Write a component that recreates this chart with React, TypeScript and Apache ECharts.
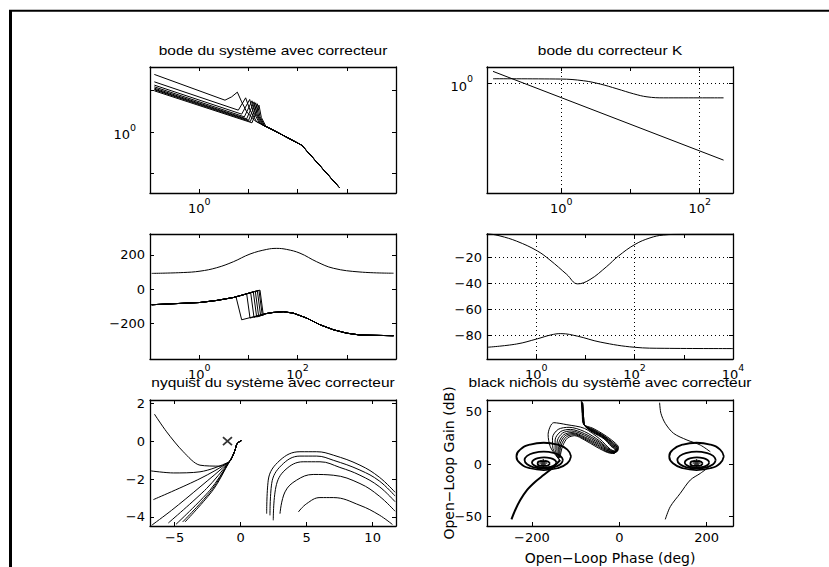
import React, { useEffect, useRef } from "react";
import * as echarts from "echarts";

const TITLE_FONT = "'Liberation Sans', Arial, Helvetica, sans-serif";
const FONT = "'DejaVu Sans', 'Liberation Sans', sans-serif";
const FS = 13;
const FT = 12.8;
const TITLE_STRETCH = 1.21;
const FRAME_W = 1.3;

// ---------- Subplot 1: bode du système avec correcteur (log10 w, log10 |G|) ----------
const bodeSysHeads: number[][][] = [
  [[-0.912, 1.39], [0.524, 0.767], [0.66, 0.848], [0.775, 0.961], [0.863, 0.726], [0.965, 0.485], [1.134, 0.267]],
  [[-0.912, 1.211], [0.795, 0.525], [0.944, 0.824], [1.033, 0.525], [1.168, 0.243]],
  [[-0.912, 1.131], [0.863, 0.429], [1.026, 0.784], [1.1, 0.485], [1.222, 0.219]],
  [[-0.912, 1.09], [0.917, 0.363], [1.073, 0.751], [1.148, 0.445], [1.256, 0.186]],
  [[-0.912, 1.058], [0.965, 0.316], [1.114, 0.726], [1.182, 0.404], [1.29, 0.162]],
  [[-0.912, 1.034], [1.005, 0.283], [1.148, 0.703], [1.209, 0.38], [1.317, 0.146]],
  [[-0.912, 1.018], [1.039, 0.251], [1.182, 0.679], [1.236, 0.363], [1.337, 0.138]],
  [[-0.912, 0.993], [1.073, 0.219], [1.215, 0.646], [1.263, 0.348], [1.358, 0.13]],
];
const bodeSysTail: number[][] = [[1.371, 0.122], [1.507, 0.041], [2.083, -0.322], [2.848, -1.346]];

// ---------- Subplot 2: bode du correcteur K ----------
const bodeKUpper: number[][] = [
  [-0.987, 0.163], [-0.014, 0.152], [0.323, 0.087], [0.564, -0.038], [0.804, -0.216],
  [1.045, -0.405], [1.238, -0.519], [1.479, -0.557], [2.345, -0.557],
];
const bodeKLower: number[][] = [[-0.987, 0.441], [2.345, -2.905]];

// ---------- Subplot 3: phase du système (deg) ----------
const phaseSysUpper: number[][] = [
  [-0.966, 92], [-0.323, 97], [0.016, 105], [0.355, 125], [0.694, 160], [1.033, 205], [1.372, 232],
  [1.575, 238], [1.778, 232], [2.049, 210], [2.388, 160], [2.726, 122], [3.268, 100], [3.95, 93],
];
const phaseSysBase: number[][] = [
  [-0.966, -91], [0.016, -78], [0.355, -66], [0.694, -49], [0.897, -33], [1.1, -16], [1.236, -6],
];
// [x top, phase top, x bottom, phase bottom]
const phaseSysDrops: number[][] = [
  [0.748, -45, 0.863, -179], [0.965, -27, 1.033, -169], [1.046, -20, 1.114, -165], [1.1, -16, 1.168, -163],
  [1.141, -13, 1.209, -160], [1.182, -10, 1.249, -156], [1.215, -7, 1.283, -154], [1.243, -6, 1.303, -152],
];
const phaseSysPost: number[][] = [
  [1.337, -144], [1.507, -136], [1.71, -132], [1.913, -140], [2.184, -169], [2.455, -208],
  [2.726, -237], [2.997, -257], [3.268, -268], [3.95, -272],
];

// ---------- Subplot 4: phase du correcteur ----------
const phaseKUpper: number[][] = [
  [-1.0, -1.5], [-0.736, -3.5], [-0.397, -7.5], [0.023, -15], [0.28, -22], [0.62, -33], [0.843, -40.3],
  [1.093, -37], [1.433, -27], [1.669, -19], [2.008, -10], [2.313, -5], [2.584, -2.8], [2.99, -2.2], [4, -2.1],
];
const phaseKLower: number[][] = [
  [-1, -89], [-0.4, -86.5], [0.023, -82.5], [0.3, -79.5], [0.5, -78.5], [0.843, -80.5], [1.3, -85],
  [2.0, -89], [2.6, -89.8], [4, -90],
];

// ---------- Subplot 5: nyquist ----------
const nyqHead: number[][] = [[0.05, 0.02], [-0.26, -0.12], [-0.43, -0.48], [-0.61, -0.79], [-0.86, -1.09]];
const nyqFan: number[][][] = [
  [[-1.57, -1.32], [-3.08, -1.27], [-4.35, -0.56], [-5.61, 0.49], [-6.54, 1.43]],
  [[-3.08, -1.62], [-5.1, -1.68], [-6.82, -1.57]],
  [[-3.08, -1.98], [-6.62, -3.09]],
  [[-3.08, -2.42], [-5.23, -3.65], [-6.74, -4.44]],
  [[-2.58, -2.5], [-5.48, -4.32]],
  [[-2.33, -2.59], [-4.9, -4.39]],
  [[-2.2, -2.59], [-4.4, -4.27]],
  [[-2.07, -2.56], [-4.22, -4.27]],
];
const nyqArcs: number[][][] = [
  [[1.97, -3.83], [2.09, -2.06], [2.98, -1.01], [4.49, -0.56], [5.76, -0.56], [7.02, -0.74], [9.04, -1.27], [10.5, -1.9], [11.7, -2.7]],
  [[2.22, -3.92], [2.35, -2.24], [3.1, -1.27], [4.49, -0.79], [5.76, -0.79], [7.02, -1.01], [9.04, -1.53], [10.5, -2.1], [11.7, -2.9]],
  [[2.47, -4.18], [2.67, -2.42], [3.36, -1.53], [4.74, -1.09], [6.01, -1.09], [7.52, -1.39], [9.04, -1.8], [10.5, -2.4], [11.7, -3.2]],
  [[2.98, -3.83], [3.36, -2.68], [4.24, -2.06], [5.5, -1.76], [7.02, -1.8], [9.04, -2.24], [10.5, -2.9], [11.7, -3.7]],
  [[4.37, -3.74], [5.0, -3.3], [6.01, -2.98], [7.02, -2.98], [9.04, -3.39], [10.5, -3.9], [11.5, -4.4]],
];
const nyqCritical: number[][] = [[-1, 0]];

// ---------- Subplot 6: black nichols (phase deg, gain dB) ----------
const nichFamily: number[][][] = [
  [[-87, 60], [-85, 48], [-82, 38], [-60, 34], [-35, 28], [-12, 21], [-2, 16], [-5, 12], [-20, 14], [-45, 24], [-80, 34], [-120, 37.5], [-150, 39.4], [-163, 28], [-158, 16.5], [-145, 8], [-137, 4]],
  [[-86, 60], [-84, 47], [-81, 37.5], [-60, 33], [-35, 27], [-13, 20], [-3, 15.5], [-6, 11.8], [-21, 13.5], [-45, 22], [-80, 31], [-115, 35], [-140, 33], [-153, 25], [-152, 15], [-142, 7], [-137, 4]],
  [[-85, 59], [-83, 47], [-80, 37], [-60, 32.5], [-35, 26.5], [-14, 19.5], [-4, 15], [-7, 11.5], [-22, 13], [-46, 21], [-80, 29], [-112, 33], [-134, 31], [-147, 23], [-147, 14], [-140, 6.5], [-137, 4]],
  [[-85, 59], [-83, 46], [-80, 37], [-60, 32], [-35, 26], [-15, 19], [-5, 14.6], [-8, 11.2], [-23, 12.6], [-47, 20], [-80, 27.5], [-110, 31.5], [-130, 29.5], [-142, 22], [-143, 13], [-139, 6]],
  [[-84, 58], [-82, 46], [-79, 36.5], [-60, 31.5], [-35, 25.5], [-16, 18.5], [-6, 14.2], [-9, 11], [-24, 12.2], [-48, 19], [-80, 26], [-108, 30], [-127, 28], [-138, 21], [-140, 12], [-138, 6]],
  [[-84, 58], [-82, 46], [-79, 36.5], [-60, 31], [-35, 25], [-17, 18], [-7, 13.8], [-10, 10.7], [-25, 11.8], [-49, 18], [-80, 25], [-106, 29], [-124, 27], [-135, 20], [-138, 11.5], [-137, 6]],
  [[-84, 58], [-82, 46], [-79, 36.5], [-60, 30.5], [-35, 24.5], [-18, 17.5], [-8, 13.4], [-11, 10.4], [-26, 11.4], [-50, 17], [-80, 24], [-104, 28], [-121, 26], [-132, 19], [-136, 11], [-136, 6]],
  [[-84, 58], [-82, 46], [-79, 36.5], [-60, 30], [-35, 24], [-19, 17], [-9, 13], [-12, 10], [-27, 11], [-51, 16], [-80, 23], [-102, 27], [-118, 25], [-129, 18], [-134, 10.5], [-135, 6]],
];
const nichLowLeft: number[][] = [
  [-247, -52.7], [-238.3, -43.8], [-226.8, -34.3], [-211.5, -24.8], [-192.4, -16.8], [-173.4, -10.5], [-154.2, -4.1], [-135.2, 3.8],
];
const nichLowRight: number[][] = [[105.4, -52.7], [116.8, -40.6], [139.7, -27.9], [162.7, -15.2], [185.6, -8.9], [205, -3]];
const nichHighRight: number[][] = [[92.4, 58.4], [95.4, 48.3], [105.4, 38.7], [124.5, 29.2], [155, 22.9], [185.6, 18.1], [208.5, 11.7]];
const nichRingsLeft: number[][][] = [
  [[-110.5, 7.3], [-118.9, 13.8], [-141.8, 18.6], [-173, 20.3], [-204.3, 18.6], [-227.1, 13.8], [-235.5, 7.3], [-227.1, 0.8], [-204.3, -4], [-173, -5.7], [-141.8, -4], [-118.9, 0.8], [-110.5, 7.3]],
  [[-129, 3.8], [-134.9, 7.8], [-151, 10.7], [-173, 11.8], [-195, 10.7], [-211.1, 7.8], [-217, 3.8], [-211.1, -0.2], [-195, -3.1], [-173, -4.2], [-151, -3.1], [-134.9, -0.2], [-129, 3.8]],
  [[-144, 1.5], [-147.8, 3.9], [-158, 5.7], [-172, 6.3], [-186, 5.7], [-196.2, 3.9], [-200, 1.5], [-196.2, -0.9], [-186, -2.7], [-172, -3.3], [-158, -2.7], [-147.8, -0.9], [-144, 1.5]],
  [[-159, 0.5], [-166, 2.75], [-180, 2.75], [-187, 0.5], [-180, -1.75], [-166, -1.75], [-159, 0.5]],
];
const nichRingsRight: number[][][] = [
  [[239.5, 7.3], [231.1, 13.8], [208.3, 18.6], [177, 20.3], [145.8, 18.6], [122.9, 13.8], [114.5, 7.3], [122.9, 0.8], [145.8, -4], [177, -5.7], [208.3, -4], [231.1, 0.8], [239.5, 7.3]],
  [[221, 3.8], [215.1, 7.8], [199, 10.7], [177, 11.8], [155, 10.7], [138.9, 7.8], [133, 3.8], [138.9, -0.2], [155, -3.1], [177, -4.2], [199, -3.1], [215.1, -0.2], [221, 3.8]],
  [[206, 1.5], [202.2, 3.9], [192, 5.7], [178, 6.3], [164, 5.7], [153.8, 3.9], [150, 1.5], [153.8, -0.9], [164, -2.7], [178, -3.3], [192, -2.7], [202.2, -0.9], [206, 1.5]],
  [[191, 0.5], [184, 2.75], [170, 2.75], [163, 0.5], [170, -1.75], [184, -1.75], [191, 0.5]],
];
const nichCenters: number[][] = [[-174, 1], [177, 1]];

// ---------- titles and ticks ----------
const titles = [
  { text: "bode du système avec correcteur", x: 273, y: 50.5 },
  { text: "bode du correcteur K", x: 610, y: 50.5 },
  { text: "nyquist du système avec correcteur", x: 273, y: 382 },
  { text: "black nichols du système avec correcteur", x: 610, y: 382 },
];

const grids = [
  { left: 150, top: 67, width: 246, height: 126 },
  { left: 487, top: 67, width: 246, height: 126 },
  { left: 150, top: 234, width: 246, height: 125 },
  { left: 487, top: 234, width: 246, height: 125 },
  { left: 150, top: 400, width: 246, height: 126 },
  { left: 487, top: 400, width: 246, height: 126 },
];

type Ax = { min: number; max: number; ticks: number[]; labels: number[]; log?: boolean; name?: string; nameGap?: number };
const axSpecs: { x: Ax; y: Ax }[] = [
  { x: { min: -1, max: 4, ticks: [0, 1, 2, 3], labels: [0], log: true }, y: { min: -1.48, max: 1.57, ticks: [-1, 0, 1], labels: [0], log: true } },
  { x: { min: -1.074, max: 2.481, ticks: [0, 1, 2], labels: [0, 2], log: true }, y: { min: -4.144, max: 0.606, ticks: [0], labels: [0], log: true } },
  { x: { min: -1, max: 4, ticks: [0, 1, 2, 3], labels: [0, 2], log: true }, y: { min: -408, max: 322, ticks: [-200, 0, 200], labels: [-200, 0, 200] } },
  { x: { min: -1, max: 4, ticks: [0, 1, 2, 3], labels: [0, 2, 4], log: true }, y: { min: -98, max: -2, ticks: [-80, -60, -40, -20], labels: [-80, -60, -40, -20] } },
  { x: { min: -6.87, max: 11.77, ticks: [-5, 0, 5, 10], labels: [-5, 0, 5, 10] }, y: { min: -4.48, max: 2.17, ticks: [-4, -2, 0, 2], labels: [-4, -2, 0, 2] } },
  {
    x: { min: -303, max: 260.5, ticks: [-200, 0, 200], labels: [-200, 0, 200], name: "Open\u2212Loop Phase (deg)", nameGap: 25 },
    y: { min: -59, max: 61, ticks: [-50, 0, 50], labels: [-50, 0, 50], name: "Open\u2212Loop Gain (dB)", nameGap: 31 },
  },
];

const RICH = {
  b: { fontSize: FS, fontFamily: FONT, color: "#000", lineHeight: 19, verticalAlign: "bottom" },
  s: { fontSize: 9.5, fontFamily: FONT, color: "#000", lineHeight: 19, verticalAlign: "top" },
};
const supFmt = (v: number) => `{b|10}{s|${Math.round(v)}}`;
const numFmt = (v: number) => (v < 0 ? "\u2212" + String(Math.abs(v)) : String(v));

function buildOption() {
  const xAxis: any[] = [];
  const yAxis: any[] = [];
  axSpecs.forEach((sp, g) => {
    (["bottom", "top"] as const).forEach((pos) => {
      const main = pos === "bottom";
      xAxis.push({
        type: "value", gridIndex: g, position: pos, min: sp.x.min, max: sp.x.max,
        axisLine: { show: true, onZero: false, lineStyle: { color: "#000", width: FRAME_W } },
        axisTick: { show: true, inside: true, length: 4, customValues: sp.x.ticks, lineStyle: { color: "#000", width: 1 } },
        axisLabel: {
          show: main, customValues: sp.x.labels, formatter: sp.x.log ? supFmt : numFmt,
          color: "#000", fontFamily: FONT, fontSize: FS, margin: sp.x.log ? 3 : 5, rich: sp.x.log ? RICH : undefined,
        },
        splitLine: { show: false },
        name: main ? sp.x.name : undefined, nameLocation: "middle", nameGap: sp.x.nameGap, nameMoveOverlap: false,
        nameTextStyle: { color: "#000", fontFamily: FONT, fontSize: 14 },
      });
    });
    (["left", "right"] as const).forEach((pos) => {
      const main = pos === "left";
      yAxis.push({
        type: "value", gridIndex: g, position: pos, min: sp.y.min, max: sp.y.max,
        axisLine: { show: true, onZero: false, lineStyle: { color: "#000", width: FRAME_W } },
        axisTick: { show: true, inside: true, length: 4, customValues: sp.y.ticks, lineStyle: { color: "#000", width: 1 } },
        axisLabel: {
          show: main, customValues: sp.y.labels, formatter: sp.y.log ? supFmt : numFmt,
          color: "#000", fontFamily: FONT, fontSize: FS, margin: sp.y.log ? 14 : 5, rich: sp.y.log ? RICH : undefined,
        },
        splitLine: { show: false },
        name: main ? sp.y.name : undefined, nameLocation: "middle", nameGap: sp.y.nameGap, nameRotate: 90, nameMoveOverlap: false,
        nameTextStyle: { color: "#000", fontFamily: FONT, fontSize: 14 },
      });
    });
  });

  const series: any[] = [];
  const line = (g: number, data: number[][], width = 1, smooth: boolean | number = false, extra: any = {}) => {
    series.push({
      type: "line", xAxisIndex: 2 * g, yAxisIndex: 2 * g, data, symbol: "none", smooth,
      lineStyle: { color: "#000", width }, silent: true, ...extra,
    });
  };
  const grid = (xs: number[], ys: number[]) => ({
    markLine: {
      silent: true, symbol: ["none", "none"], label: { show: false },
      lineStyle: { color: "#000", width: 1, type: [1, 3] },
      data: [...xs.map((v) => ({ xAxis: v })), ...ys.map((v) => ({ yAxis: v }))],
    },
  });

  bodeSysHeads.forEach((h) => line(0, h.concat(bodeSysTail), 1));
  line(1, bodeKUpper, 1, 0.4, grid([0, 2], [0]));
  line(1, bodeKLower, 1);
  line(2, phaseSysUpper, 1, 0.4);
  phaseSysDrops.forEach((d) => {
    const pts = phaseSysBase.filter((p) => p[0] < d[0]).concat([[d[0], d[1]], [d[2], d[3]]], phaseSysPost);
    line(2, pts, 1);
  });
  line(3, phaseKUpper, 1, 0.4, grid([0, 2], [-80, -60, -40, -20]));
  line(3, phaseKLower, 1, 0.4);
  nyqFan.forEach((f) => line(4, nyqHead.concat(f), 1, 0.3));
  nyqArcs.forEach((a) => line(4, a, 1, 0.4));
  series.push({
    type: "scatter", xAxisIndex: 8, yAxisIndex: 8, data: nyqCritical, symbol: "path://M0 0L10 10M10 0L0 10",
    symbolSize: [9, 8], itemStyle: { color: "none", borderColor: "#000", borderWidth: 1.6 }, silent: true,
  });
  nichFamily.forEach((f) => line(5, f, 1, 0.3));
  line(5, nichLowLeft, 2, 0.3);
  line(5, nichLowRight, 1, 0.3);
  line(5, nichHighRight, 1, 0.3);
  nichRingsLeft.forEach((r) => line(5, r, 1.8, 0.5));
  nichRingsRight.forEach((r) => line(5, r, 1.8, 0.5));
  series.push({
    type: "scatter", xAxisIndex: 10, yAxisIndex: 10, data: nichCenters,
    symbol: "path://M5 0L5 10M0 5L10 5M1.5 1.5L8.5 8.5M8.5 1.5L1.5 8.5",
    symbolSize: 8, itemStyle: { color: "none", borderColor: "#000", borderWidth: 1.5 }, silent: true,
  });

  return {
    animation: false,
    backgroundColor: "#fff",
    grid: grids.map((g) => ({ ...g, containLabel: false })),
    xAxis,
    yAxis,
    series,
    graphic: [
      { type: "line", shape: { x1: 10.5, y1: 10, x2: 10.5, y2: 567 }, style: { stroke: "#000", lineWidth: 3 } },
      { type: "line", shape: { x1: 9, y1: 10.8, x2: 829, y2: 10.8 }, style: { stroke: "#000", lineWidth: 2 } },
      ...titles.map((t) => ({
        type: "text", x: t.x, y: t.y, scaleX: TITLE_STRETCH,
        style: { text: t.text, fill: "#000", font: `${FT}px ${TITLE_FONT}`, textAlign: "center", textVerticalAlign: "middle" },
      })),
    ],
  };
}

export default function App() {
  const ref = useRef<HTMLDivElement>(null);
  useEffect(() => {
    if (!ref.current) return;
    const chart = echarts.init(ref.current, null, { renderer: "svg" });
    chart.setOption(buildOption() as any);
    return () => chart.dispose();
  }, []);
  return <div ref={ref} style={{ position: "fixed", left: 0, top: 0, width: 829, height: 567, background: "#fff" }} />;
}
